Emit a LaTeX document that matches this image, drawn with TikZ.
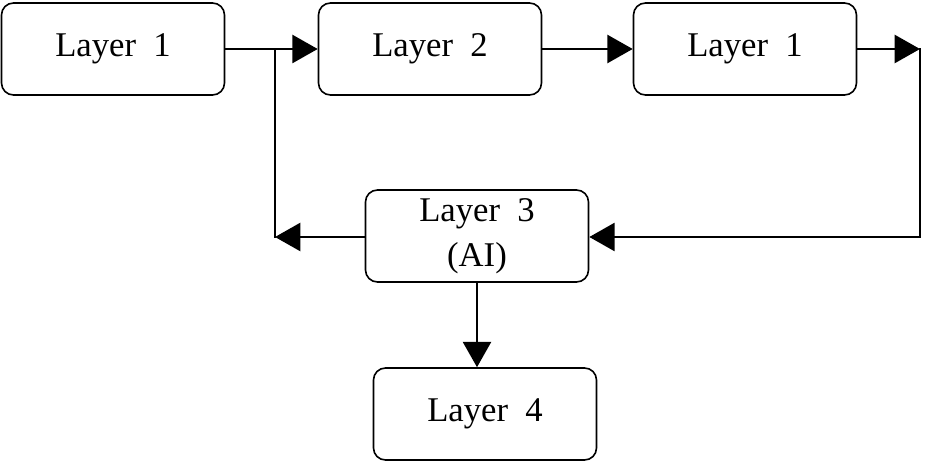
\documentclass[tikz,border=0pt]{standalone}
\usepackage{fontspec}
\setmainfont{Liberation Serif}
\usetikzlibrary{arrows.meta}
\begin{document}
\begin{tikzpicture}[x=0.75pt,y=-0.75pt,
  box/.style={draw,line width=1.2pt,rounded corners=9pt,minimum width=223*0.75pt,minimum height=92*0.75pt,font=\fontsize{26}{34}\selectfont,align=center,inner sep=0pt},
  ln/.style={line width=1.9pt,line cap=rect},
  ar/.style={ln,-{Triangle[length=19pt,width=21pt]}}]
\useasboundingbox (0,0) rectangle (942,463);
\node[box] (l1) at (113,49) {Layer\ \ 1};
\node[box] (l2) at (430,49) {Layer\ \ 2};
\node[box] (l1b) at (745,49) {Layer\ \ 1};
\node[box] (l3) at (477,236) {Layer\ \ 3\\(AI)};
\node[box] (l4) at (485,414) {Layer\ \ 4};
\coordinate (j) at (275,49);
\coordinate (jb) at (275,237);
\coordinate (r) at (920,49);
\coordinate (rb) at (920,237);
\draw[ar] (l1.east) -- (l2.west);
\draw[ar] (l2.east) -- (l1b.west);
\draw[ar] (l1b.east) -- (r);
\draw[ln] (r) -- (rb);
\draw[ar] (rb) -- (l3.east |- rb);
\draw[ar] (l3.west |- jb) -- (jb);
\draw[ln] (jb) -- (j);
\draw[ar] (l3.south -| 477,0) -- (l4.north -| 477,0);
\end{tikzpicture}
\end{document}
